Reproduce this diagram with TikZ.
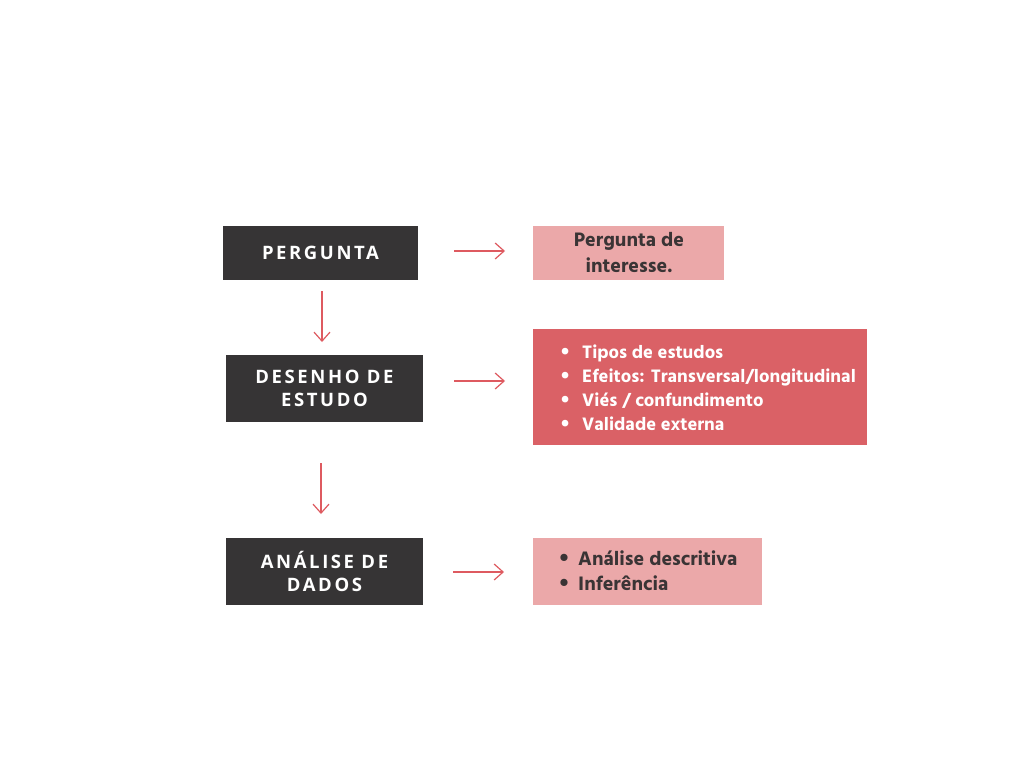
\documentclass[tikz,border=0pt]{standalone}
\usepackage{fontspec}
\usetikzlibrary{arrows.meta}
\setmainfont{Hind Siliguri}[BoldFont={* Bold}]
\newfontfamily\titlefont[LetterSpace=14]{Open Sans Bold}
\newfontfamily\bodyfont{Hind Siliguri Bold}
\definecolor{darkbox}{HTML}{363435}
\definecolor{pinkbox}{HTML}{EBA8A9}
\definecolor{redbox}{HTML}{DA6166}
\definecolor{arrowc}{HTML}{DE5A60}
\definecolor{darktext}{HTML}{3A3435}
\newcommand{\bul}{\makebox[0pt][c]{\raisebox{-1.7pt}{\scalebox{1.35}{\textbullet}}}}
\tikzset{
  titlebox/.style={fill=darkbox, text=white, inner sep=0pt, align=center,
    font=\titlefont\fontsize{18.5}{22.5}\selectfont},
  infobox/.style={inner sep=0pt},
  infotext/.style={inner sep=0pt, align=left, anchor=west},
  flow/.style={draw=arrowc, line width=1.2pt, -{Straight Barb[length=9pt,width=16pt]}},
}
\begin{document}
\begin{tikzpicture}[x=1pt,y=-1pt]
\useasboundingbox[fill=white] (0,0) rectangle (1024,768);
% left boxes
\node[titlebox, minimum width=195pt, minimum height=54pt] (q) at (320.5,253) {PERGUNTA};
\node[titlebox, minimum width=197pt, minimum height=67pt] (d) at (324.5,388.5) {DESENHO DE\\ESTUDO};
\node[titlebox, minimum width=197pt, minimum height=67pt] (a) at (324.5,571.5) {ANÁLISE DE\\DADOS};
% right boxes
\node[infobox, fill=pinkbox, minimum width=191pt, minimum height=54pt] (qr) at (628.5,253) {};
\node[infobox, fill=redbox, minimum width=334pt, minimum height=116pt] (dr) at (700,387) {};
\node[infobox, fill=pinkbox, minimum width=229pt, minimum height=67pt] (ar) at (647.5,571.5) {};
% texts
\node[inner sep=0pt, align=center, text=darktext, font=\bodyfont\fontsize{20}{26}\selectfont] (qt) at (629,253) {Pergunta de\\interesse.};
\node[infotext, text=white, font=\bodyfont\fontsize{18.5}{24}\selectfont] (dt) at (565,389) {\bul\hspace{17pt}Tipos de estudos\\\bul\hspace{17pt}Efeitos: Transversal/longitudinal\\\bul\hspace{17pt}Viés / confundimento\\\bul\hspace{17pt}Validade externa};
\node[infotext, text=darktext, font=\bodyfont\fontsize{20}{25}\selectfont] (at) at (564,571.5) {\bul\hspace{14pt}Análise descritiva\\\bul\hspace{14pt}Inferência};
% connectors
\coordinate (h1s) at (454,251); \coordinate (h1e) at (505,251);
\coordinate (h2s) at (454,381); \coordinate (h2e) at (505,381);
\coordinate (h3s) at (453,572); \coordinate (h3e) at (504,572);
\coordinate (v1s) at (322,291); \coordinate (v1e) at (322,342);
\coordinate (v2s) at (321,463); \coordinate (v2e) at (321,514);
\draw[flow] (h1s) -- (h1e);
\draw[flow] (h2s) -- (h2e);
\draw[flow] (h3s) -- (h3e);
\draw[flow] (v1s) -- (v1e);
\draw[flow] (v2s) -- (v2e);
\end{tikzpicture}
\end{document}
